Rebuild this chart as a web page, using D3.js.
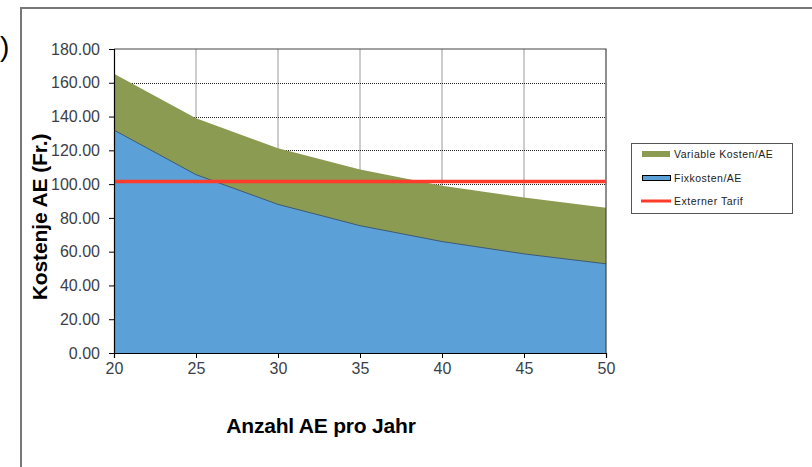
<!DOCTYPE html>
<html><head><meta charset="utf-8">
<script src="https://cdn.jsdelivr.net/npm/d3@7/dist/d3.min.js"></script>
<style>body{margin:0;background:#fff}svg{display:block}text{font-family:"Liberation Sans",Arial,sans-serif}</style>
</head><body>
<svg id="c" width="812" height="467"></svg>
<script>
const anzahl = [20, 25, 30, 35, 40, 45, 50];
const fixkosten = [132.0, 105.6, 88.0, 75.4, 66.0, 58.7, 52.8];
const variableKosten = [33.4, 33.4, 33.2, 33.2, 33.0, 33.3, 33.2];
const externerTarif = 101.5;
const yTicks = [0, 20, 40, 60, 80, 100, 120, 140, 160, 180];
const xTicks = [20, 25, 30, 35, 40, 45, 50];
const seriesNames = ["Variable Kosten/AE", "Fixkosten/AE", "Externer Tarif"];
const colors = {variable: "#8c9b52", fix: "#5ca0d8", tarif: "#ff3b2b"};

const svg = d3.select("#c");
const x = d3.scaleLinear().domain([20, 50]).range([114, 606]);
const y = d3.scaleLinear().domain([0, 180]).range([353, 49]);

// outer frame
svg.append("path").attr("d", "M21,470 V8 H820").attr("fill", "none").attr("stroke", "#777").attr("stroke-width", 2);
svg.append("text").attr("x", 0).attr("y", 56).attr("font-size", 28).attr("fill", "#000").text(")");

// gridlines
const g = svg.append("g");
g.selectAll(".vg").data(xTicks.slice(1, -1)).join("line")
  .attr("x1", d => x(d)).attr("x2", d => x(d)).attr("y1", y(180)).attr("y2", y(0))
  .attr("stroke", "#9a9a9a").attr("stroke-width", 1);
g.selectAll(".hg").data(yTicks.slice(1, -1)).join("line")
  .attr("x1", x(20)).attr("x2", x(50)).attr("y1", d => Math.round(y(d)) + 0.5).attr("y2", d => Math.round(y(d)) + 0.5)
  .attr("stroke", "#222").attr("stroke-width", 1).attr("stroke-dasharray", "1,1");

// stacked areas
const data = anzahl.map((a, i) => ({a, fix: fixkosten[i], tot: fixkosten[i] + variableKosten[i]}));
svg.append("path").datum(data)
  .attr("d", d3.area().x(d => x(d.a)).y0(y(0)).y1(d => y(d.tot)))
  .attr("fill", colors.variable);
svg.append("path").datum(data)
  .attr("d", d3.area().x(d => x(d.a)).y0(y(0)).y1(d => y(d.fix)))
  .attr("fill", colors.fix);
svg.append("path").datum(data)
  .attr("d", d3.line().x(d => x(d.a)).y(d => y(d.fix)))
  .attr("fill", "none").attr("stroke", "#3d5a73").attr("stroke-width", 1);

// plot border top/right
svg.append("path").attr("d", `M${x(20)},${y(180)} H${x(50)} V${y(0)}`)
  .attr("fill", "none").attr("stroke", "#444").attr("stroke-width", 1.2);

// tarif line
svg.append("line").attr("x1", x(20)).attr("x2", x(50)).attr("y1", y(externerTarif)).attr("y2", y(externerTarif))
  .attr("stroke", colors.tarif).attr("stroke-width", 3.5);

// axes
const fmt = d3.format(".2f");
const yAxis = svg.append("g").attr("transform", `translate(${x(20)},0)`)
  .call(d3.axisLeft(y).tickValues(yTicks).tickFormat(fmt).tickSize(5).tickPadding(9));
const xAxis = svg.append("g").attr("transform", `translate(0,${y(0)})`)
  .call(d3.axisBottom(x).tickValues(xTicks).tickSize(5).tickPadding(5));
[yAxis, xAxis].forEach(a => {
  a.select(".domain").attr("stroke", "#000").attr("stroke-width", 1.2);
  a.selectAll(".tick line").attr("stroke", "#000");
  a.selectAll("text").attr("font-size", 16).attr("fill", "#3a3f4a").attr("font-family", '"Liberation Sans",Arial,sans-serif');
});

// axis titles
svg.append("text").attr("x", 321).attr("y", 433).attr("text-anchor", "middle")
  .attr("font-size", 21).attr("font-weight", "bold").attr("letter-spacing", -0.2).attr("fill", "#000")
  .text("Anzahl AE pro Jahr");
svg.append("text").attr("transform", "translate(47,217) rotate(-90)").attr("text-anchor", "middle")
  .attr("font-size", 21).attr("font-weight", "bold").attr("letter-spacing", -0.1).attr("fill", "#000")
  .text("Kostenje AE (Fr.)");

// legend
const lg = svg.append("g");
lg.append("rect").attr("x", 631.5).attr("y", 143.5).attr("width", 161).attr("height", 70)
  .attr("fill", "#fff").attr("stroke", "#555").attr("stroke-width", 1);
lg.append("rect").attr("x", 642).attr("y", 151).attr("width", 28).attr("height", 6).attr("fill", colors.variable);
lg.append("rect").attr("x", 642.5).attr("y", 175.5).attr("width", 28).attr("height", 5)
  .attr("fill", colors.fix).attr("stroke", "#000").attr("stroke-width", 1);
lg.append("line").attr("x1", 641).attr("x2", 671).attr("y1", 201).attr("y2", 201)
  .attr("stroke", colors.tarif).attr("stroke-width", 3);
const ly = [157.5, 182, 205];
lg.selectAll(".lt").data(seriesNames).join("text")
  .attr("x", 674).attr("y", (d, i) => ly[i]).attr("font-size", 10.5).attr("letter-spacing", 0.5)
  .attr("fill", "#222").text(d => d);
</script>
</body></html>
